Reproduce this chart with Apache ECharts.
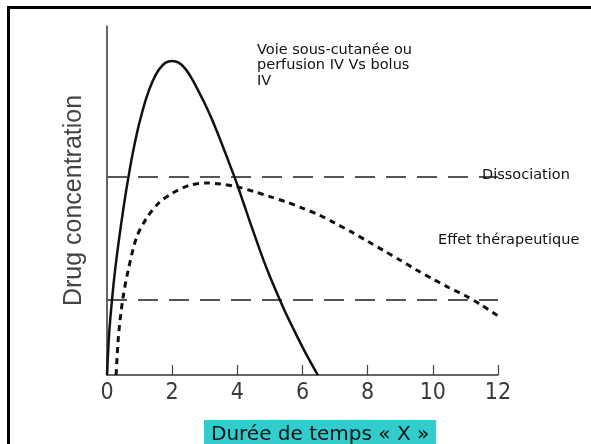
<!DOCTYPE html>
<html>
<head>
<meta charset="utf-8">
<script src="https://cdn.jsdelivr.net/npm/echarts@6/dist/echarts.min.js"></script>
<style>html,body{margin:0;padding:0;background:#fff;}#c{width:591px;height:444px;}</style>
</head>
<body>
<div id="c"></div>
<script>
// Time (x) tick labels
var xTicks = [0, 2, 4, 6, 8, 10, 12];
// Bolus IV curve: [time, concentration]
var bolusIV = [[0,0],[0.05,0.95],[0.1,1.6],[0.2,2.6],[0.3,3.4],[0.4,4.1],[0.5,4.75],[0.6,5.35],[0.7,5.9],[0.8,6.4],[0.9,6.85],[1.0,7.25],[1.2,7.92],[1.4,8.42],[1.6,8.76],[1.8,8.95],[2.0,9.0],[2.2,8.95],[2.4,8.78],[2.6,8.5],[2.8,8.15],[3.0,7.78],[3.2,7.37],[3.4,6.92],[3.6,6.44],[3.8,5.95],[4.0,5.45],[4.2,4.9],[4.4,4.35],[4.6,3.82],[4.8,3.3],[5.0,2.82],[5.2,2.38],[5.4,1.95],[5.6,1.55],[5.8,1.17],[6.0,0.8],[6.2,0.45],[6.47,0]];
// Subcutaneous / IV infusion curve
var sousCutanee = [[0.28,0],[0.35,1.09],[0.48,2.15],[0.65,3.0],[0.91,3.95],[1.22,4.5],[1.58,4.92],[1.99,5.2],[2.55,5.44],[3.06,5.5],[3.5,5.47],[4.0,5.39],[4.5,5.26],[5.0,5.11],[5.5,4.96],[6.0,4.78],[6.5,4.59],[7.0,4.35],[7.5,4.1],[8.0,3.83],[8.5,3.56],[9.0,3.29],[9.5,3.01],[10.0,2.75],[10.5,2.5],[11.0,2.27],[11.5,2.0],[12,1.69]];
// Threshold levels
var dissociation = [[0,5.67],[12,5.67]];
var effetTherapeutique = [[0,2.15],[12,2.15]];

var chart = echarts.init(document.getElementById('c'), null, {renderer:'canvas'});
var dashStyle = {color:'#555', width:2, type:[20,11], dashOffset:0};
chart.setOption({
  animation:false,
  backgroundColor:'#fff',
  title:{
    text:'Durée de temps « X »', left:204, top:420,
    backgroundColor:'#33CCCC', padding:[5,7,8,7],
    textStyle:{fontFamily:'DejaVu Sans, Verdana, sans-serif', fontSize:20, fontWeight:'normal', color:'#111'}
  },
  grid:{left:107, right:93, top:26, bottom:69, containLabel:false},
  xAxis:{
    type:'value', min:0, max:12, interval:2,
    axisLine:{show:true, lineStyle:{color:'#333', width:1.5}},
    axisTick:{show:true, inside:true, length:10, lineStyle:{color:'#444', width:1.2}},
    axisLabel:{show:true, margin:7, color:'#3a3a3a', fontSize:23,
      fontFamily:'Liberation Sans Narrow, DejaVu Sans Condensed, Arial Narrow, sans-serif',
      formatter:function(v){return xTicks.indexOf(v)>=0 ? String(v) : '';}},
    splitLine:{show:false}
  },
  yAxis:{
    type:'value', min:0, max:10,
    name:'Drug concentration', nameLocation:'middle', nameGap:20,
    nameTextStyle:{color:'#444', fontSize:25, fontFamily:'Liberation Sans, Arial, sans-serif'},
    axisLine:{show:true, lineStyle:{color:'#333', width:1.5}},
    axisTick:{show:false}, axisLabel:{show:false}, splitLine:{show:false}
  },
  series:[
    {type:'line', data:dissociation, symbol:'none', lineStyle:dashStyle, z:1, silent:true},
    {type:'line', data:effetTherapeutique, symbol:'none', lineStyle:dashStyle, z:1, silent:true},
    {type:'line', data:bolusIV, symbol:'none', smooth:0.25, lineStyle:{color:'#111', width:2.5}, z:3},
    {type:'line', data:sousCutanee, symbol:'none', smooth:0.3, lineStyle:{color:'#111', width:3, type:[6,5]}, z:3}
  ],
  graphic:[
    {type:'rect', z:0, shape:{x:8.5, y:7.5, width:700, height:600}, style:{fill:'none', stroke:'#000', lineWidth:3}},
    {type:'text', left:257, top:42, z:10, style:{text:'Voie sous-cutanée ou\nperfusion IV Vs bolus\nIV', font:'14.5px "DejaVu Sans", Verdana, sans-serif', fill:'#111', lineHeight:15.5}},
    {type:'text', left:482, top:168, z:10, style:{text:'Dissociation', font:'14.5px "DejaVu Sans", Verdana, sans-serif', fill:'#111'}},
    {type:'text', left:438, top:233, z:10, style:{text:'Effet thérapeutique', font:'14.5px "DejaVu Sans", Verdana, sans-serif', fill:'#111'}}
  ]
});
</script>
</body>
</html>
